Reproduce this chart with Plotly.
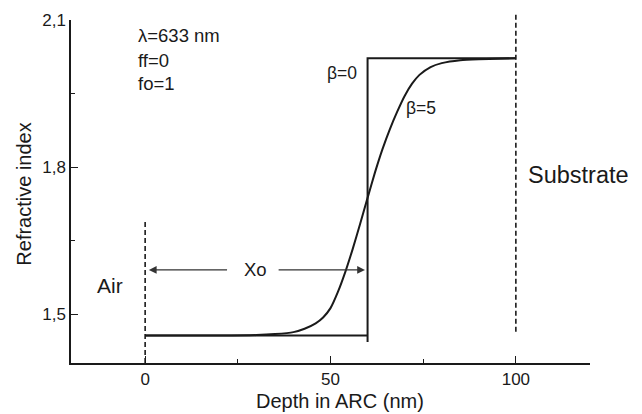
import plotly.graph_objects as go

# Data
step_x = [0, 60, 60, 60, 100]
step_y = [1.456, 1.456, 1.443, 2.022, 2.022]

beta5_x = [0, 20, 30, 35, 40, 43, 46, 48, 50, 52, 54, 56, 58, 60, 62, 64, 66, 68, 70, 72, 74, 77, 80, 85, 90, 100]
beta5_y = [1.456, 1.456, 1.457, 1.459, 1.463, 1.470, 1.481, 1.493, 1.512, 1.545, 1.586, 1.633, 1.684,
           1.737, 1.789, 1.836, 1.877, 1.913, 1.945, 1.970, 1.988, 2.004, 2.012, 2.018, 2.020, 2.022]

air_x = 0
air_y = [1.40, 1.692]
sub_x = 100
sub_y_bottom = 1.464

y_tickvals = [1.5, 1.8, 2.1]
y_ticktext = ["1,5", "1,8", "2,1"]
x_tickvals = [0, 50, 100]

FONT = "Liberation Sans, Arial, Helvetica, sans-serif"
BLACK = "#1a1a1a"

fig = go.Figure()
fig.add_trace(go.Scatter(x=step_x, y=step_y, mode="lines",
                         line=dict(color=BLACK, width=2), showlegend=False, hoverinfo="skip"))
fig.add_trace(go.Scatter(x=beta5_x, y=beta5_y, mode="lines",
                         line=dict(color=BLACK, width=2, shape="spline", smoothing=0.6),
                         showlegend=False, hoverinfo="skip"))

# dashed boundary lines
fig.add_shape(type="line", xref="x", yref="y", x0=air_x, x1=air_x, y0=air_y[0], y1=air_y[1],
              line=dict(color=BLACK, width=1.6, dash="5px,3px"))
fig.add_shape(type="line", xref="x", yref="paper", x0=sub_x, x1=sub_x,
              y0=(sub_y_bottom - 1.4) / 0.7, y1=1.015,
              line=dict(color=BLACK, width=1.6, dash="5px,3px"))

ann = []
def txt(x, y, s, size, xanchor="center"):
    ann.append(dict(x=x, y=y, xref="x", yref="y", text=s, showarrow=False,
                    xanchor=xanchor, yanchor="middle",
                    font=dict(family=FONT, size=size, color=BLACK)))

txt(-2.4, 2.069, "λ=633 nm", 18.5, "left")
txt(-2.4, 2.018, "ff=0", 18.5, "left")
txt(-2.4, 1.971, "fo=1", 18.5, "left")
txt(53.2, 1.992, "β=0", 17.5)
txt(74.5, 1.920, "β=5", 17.5)
txt(-9.5, 1.559, "Air", 21)
txt(116.8, 1.784, "Substrate", 23.5)
txt(29.7, 1.59, "Xo", 18.5)

for head, tail in [(1.0, 22.5), (59.3, 35.6)]:
    ann.append(dict(x=head, y=1.59, ax=tail, ay=1.59, xref="x", yref="y", axref="x", ayref="y",
                    text="", showarrow=True, arrowhead=2, arrowsize=1.3, arrowwidth=1.2,
                    arrowcolor="#333"))

# axis titles (placed as in the reference)
ann.append(dict(x=0.518, y=-0.110, xref="paper", yref="paper", text="Depth in ARC (nm)",
                showarrow=False, xanchor="center", yanchor="middle",
                font=dict(family=FONT, size=20, color=BLACK)))
ann.append(dict(x=-0.091, y=0.493, xref="paper", yref="paper", text="Refractive index",
                showarrow=False, xanchor="center", yanchor="middle", textangle=-90,
                font=dict(family=FONT, size=20, color=BLACK)))

fig.update_layout(
    width=642, height=414,
    margin=dict(l=71, r=52, t=20, b=51, autoexpand=False),
    paper_bgcolor="white", plot_bgcolor="white",
    separators=",.",
    annotations=ann,
    font=dict(family=FONT, color=BLACK, size=16),
    xaxis=dict(range=[-20, 120], tickmode="array", tickvals=x_tickvals, automargin=False,
               ticks="inside", ticklen=7, tickwidth=1.3, tickcolor=BLACK,
               showline=True, linecolor=BLACK, linewidth=1.5, showgrid=False, zeroline=False,
               minor=dict(tickmode="array", tickvals=[25, 75], ticks="inside", ticklen=4,
                          tickwidth=1.3, tickcolor=BLACK, showgrid=False),
               tickfont=dict(size=17)),
    yaxis=dict(range=[1.4, 2.1], tickmode="array", tickvals=y_tickvals, ticktext=y_ticktext,
               automargin=False,
               ticks="inside", ticklen=7, tickwidth=1.3, tickcolor=BLACK,
               showline=True, linecolor=BLACK, linewidth=1.5, showgrid=False, zeroline=False,
               minor=dict(tickmode="array", tickvals=[1.65, 1.95], ticks="inside", ticklen=4,
                          tickwidth=1.3, tickcolor=BLACK, showgrid=False),
               tickfont=dict(size=17)),
)

fig.write_html("out.html", config={"displayModeBar": False},
               post_script="document.body.style.margin='0';document.body.style.padding='0';")
